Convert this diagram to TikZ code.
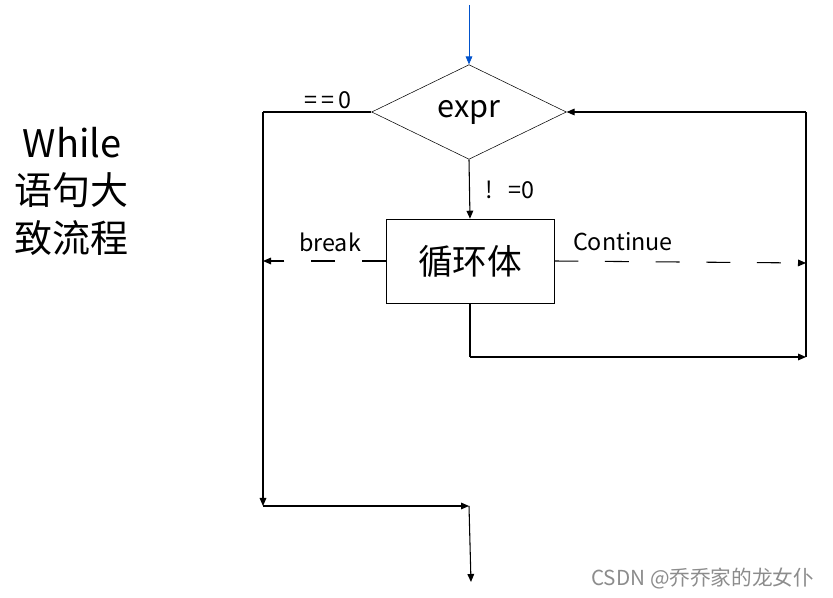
\documentclass[tikz,border=0pt]{standalone}
\usepackage{fontspec}
\setmainfont{Noto Sans CJK SC}
\usetikzlibrary{arrows.meta,shapes.geometric,positioning}

\begin{document}
\begin{tikzpicture}[x=0.75pt,y=-0.75pt]
\tikzset{
  decision/.style={diamond,draw,minimum width=146pt,minimum height=71pt,inner sep=0pt,font=\fontsize{23}{27}\selectfont},
  process/.style={rectangle,draw,minimum width=126pt,minimum height=63pt,inner sep=0pt,font=\fontsize{26}{30}\selectfont},
  flowlabel/.style={inner sep=1pt,font=\fontsize{17.5}{20}\selectfont},
  flow/.style={-{Triangle[length=6pt,width=5pt]},line width=0.8pt},
  jump/.style={flow,dash pattern=on 18pt off 20pt},
  plain/.style={line width=0.8pt}
}
\useasboundingbox (0,0) rectangle (833,598);
% title on the left
\node[align=center,font=\fontsize{28.5}{35.6}\selectfont] (n_title) at (72,191) {While\\语句大\\致流程};
% main shapes
\node[decision] (n_expr) at (469,112) {expr};
\node[process] (n_body) at (470,261) {循环体};
\coordinate (n_start) at (469,5);
\coordinate (n_lefttop) at (263,112);
\coordinate (n_leftbot) at (263,506);
\coordinate (n_join) at (469,506);
\coordinate (n_end) at (471,582);
\coordinate (n_breakend) at (263,261);
\coordinate (n_contend) at (806,263);
\coordinate (n_bodybot) at (470,357);
\coordinate (n_rightbot) at (806,357);
\coordinate (n_righttop) at (806,112);
% labels
\node[flowlabel] (n_eq) at (328,100) {=\,=\,0};
\node[flowlabel] (n_ne) at (510,190) {!\hspace{12pt}=0};
\node[flowlabel] (n_break) at (330,242) {break};
\node[flowlabel] (n_cont) at (623,242) {Continue};
\node[font=\fontsize{15.5}{18}\selectfont,text=black!45,anchor=east] (n_mark) at (819,579) {CSDN @乔乔家的龙女仆};
% connectors
\draw[flow,draw=blue!60!cyan!80!black,line width=0.6pt] (n_start) -- (n_expr.north);
\draw[flow] (n_expr.south) -- (n_body.north);
\draw[plain] (n_expr.west) -- (n_lefttop);
\draw[flow] (n_lefttop) -- (n_leftbot);
\draw[flow] (n_leftbot) -- (n_join);
\draw[flow] (n_join) -- (n_end);
\draw[jump] (n_body.west) -- (n_breakend);
\draw[jump] (n_body.east) -- (n_contend);
\draw[plain] (n_body.south) -- (n_bodybot);
\draw[flow] (n_bodybot) -- (n_rightbot);
\draw[plain] (n_rightbot) -- (n_righttop);
\draw[flow] (n_righttop) -- (n_expr.east);
\end{tikzpicture}
\end{document}
